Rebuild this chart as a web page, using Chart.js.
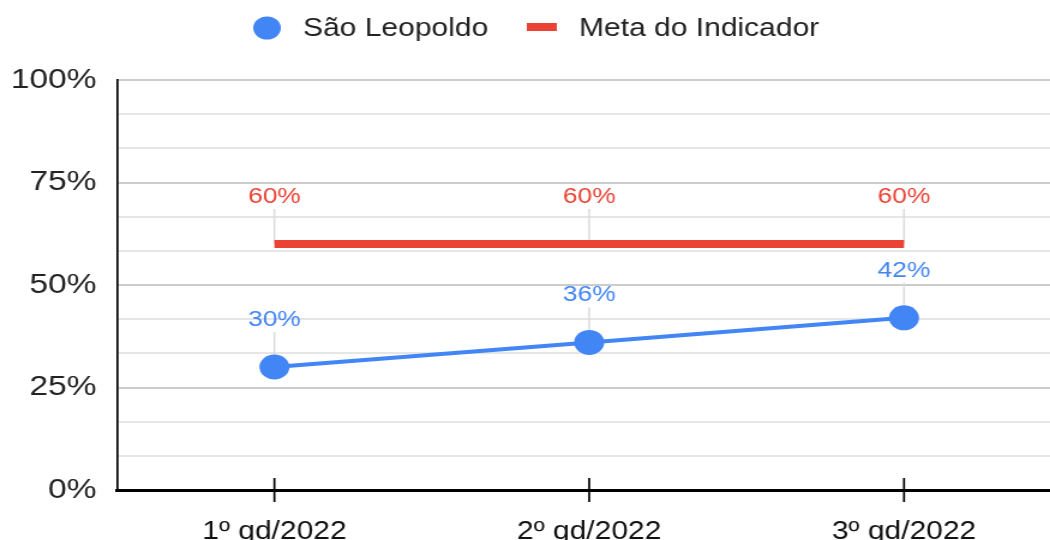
<!DOCTYPE html>
<html lang="pt-BR">
<head>
<meta charset="UTF-8">
<title>São Leopoldo x Meta do Indicador</title>
<style>
  html, body { margin: 0; padding: 0; background: #fff; overflow: hidden; }
  .wrap { width: 1050px; height: 540px; overflow: hidden; }
  /* the reference is stretched sideways, so the canvas is stretched the same way */
  #chart { transform: scaleX(1.2); transform-origin: 0 0; }
</style>
</head>
<body>
<div class="wrap"><canvas id="chart" width="897" height="540"></canvas></div>

<script src="https://cdn.jsdelivr.net/npm/chart.js"></script>
<script>
const categories = ['1º qd/2022', '2º qd/2022', '3º qd/2022'];
const saoLeopoldo = [30, 36, 42];
const metaIndicador = [60, 60, 60];
const yTickLabels = ['0%', '25%', '50%', '75%', '100%'];

const BLUE = '#4285F4';
const RED = '#EA4335';
const FONT = "'Liberation Sans', Arial, sans-serif";

// leader lines, data labels, axis ticks and the legend
const extras = {
    id: 'extras',
    beforeDatasetsDraw(chart) {
        const ctx = chart.ctx;
        ctx.save();
        ctx.strokeStyle = '#dcdcdc';
        ctx.lineWidth = 1.6;
        chart.data.datasets.forEach((ds, i) => {
            chart.getDatasetMeta(i).data.forEach(pt => {
                ctx.beginPath();
                ctx.moveTo(pt.x, pt.y - 35);
                ctx.lineTo(pt.x, pt.y);
                ctx.stroke();
            });
        });

        // tick marks that cross the x axis
        const xScale = chart.scales.x;
        const bottom = chart.chartArea.bottom;
        ctx.strokeStyle = '#000';
        ctx.lineWidth = 1.7;
        categories.forEach((c, i) => {
            const px = xScale.getPixelForValue(i);
            ctx.beginPath();
            ctx.moveTo(px, bottom - 12);
            ctx.lineTo(px, bottom + 12);
            ctx.stroke();
        });
        ctx.restore();
    },
    afterDatasetsDraw(chart) {
        const ctx = chart.ctx;
        ctx.save();
        ctx.font = '22px ' + FONT;
        ctx.textAlign = 'center';
        ctx.textBaseline = 'middle';
        chart.data.datasets.forEach((ds, i) => {
            ctx.fillStyle = ds.borderColor;
            chart.getDatasetMeta(i).data.forEach((pt, j) => {
                ctx.fillText(ds.data[j] + '%', pt.x, pt.y - 47);
            });
        });
        ctx.restore();
    },
    afterDraw(chart) {
        const ctx = chart.ctx;
        ctx.save();
        ctx.font = '25px ' + FONT;
        ctx.textBaseline = 'alphabetic';
        ctx.textAlign = 'left';

        ctx.fillStyle = BLUE;
        ctx.beginPath();
        ctx.arc(222.5, 28, 11.5, 0, Math.PI * 2);
        ctx.fill();
        ctx.fillStyle = '#222';
        ctx.fillText(chart.data.datasets[0].label, 252.5, 36);

        ctx.fillStyle = RED;
        ctx.fillRect(439, 23, 25, 8);
        ctx.fillStyle = '#222';
        ctx.fillText(chart.data.datasets[1].label, 482.5, 36);
        ctx.restore();
    }
};

function isMajor(v) {
    return Math.abs(v / 25 - Math.round(v / 25)) < 0.01;
}

new Chart(document.getElementById('chart'), {
    type: 'line',
    data: {
        labels: categories,
        datasets: [
            {
                label: 'São Leopoldo',
                data: saoLeopoldo,
                borderColor: BLUE,
                backgroundColor: BLUE,
                borderWidth: 4,
                pointRadius: 12.5,
                pointHoverRadius: 12.5,
                pointBorderWidth: 0,
                pointBackgroundColor: BLUE
            },
            {
                label: 'Meta do Indicador',
                data: metaIndicador,
                borderColor: RED,
                backgroundColor: RED,
                borderWidth: 8,
                borderCapStyle: 'butt',
                pointRadius: 0,
                pointHoverRadius: 0
            }
        ]
    },
    options: {
        responsive: false,
        animation: false,
        events: [],
        layout: { padding: { top: 80, left: 0, right: 0, bottom: 0 } },
        plugins: {
            legend: { display: false },
            tooltip: { enabled: false }
        },
        scales: {
            x: {
                offset: true,
                afterFit(scale) { scale.height = 50; },
                grid: { color: 'rgba(0,0,0,0)', drawTicks: false },
                border: { display: true, color: '#000', width: 3 },
                ticks: {
                    color: '#111',
                    padding: 27,
                    maxRotation: 0,
                    font: { family: FONT, size: 25 }
                }
            },
            y: {
                min: 0,
                max: 100,
                afterFit(scale) { scale.width = 97.5; },
                grid: {
                    drawTicks: false,
                    lineWidth: 2,
                    color: c => isMajor(c.tick.value) ? '#cccccc' : '#e6e6e6'
                },
                border: { display: true, color: '#000', width: 1.7 },
                ticks: {
                    stepSize: 100 / 12,
                    maxTicksLimit: 20,
                    autoSkip: false,
                    padding: 17,
                    color: '#222',
                    font: { family: FONT, size: 28 },
                    callback: v => isMajor(v) ? yTickLabels[Math.round(v / 25)] : ''
                }
            }
        }
    },
    plugins: [extras]
});
</script>
</body>
</html>
